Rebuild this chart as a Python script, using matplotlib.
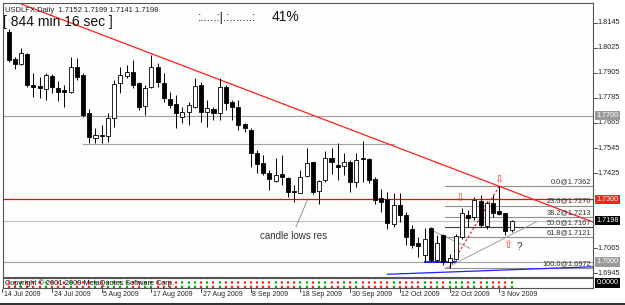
import matplotlib.pyplot as plt
import numpy as np
import pandas as pd
from matplotlib.transforms import blended_transform_factory

plt.rcParams['font.family'] = ['Liberation Sans', 'DejaVu Sans']

# Data: USDLFX daily candles, 15 Jul 2009 .. 5 Nov 2009
days = pd.bdate_range('2009-07-14', '2009-11-05')
opens = [1.8102, 1.7970, 1.7948, 1.7995, 1.7847, 1.7842, 1.7826, 1.7890, 1.7831, 1.7823,
         1.7815, 1.7932, 1.7895, 1.7711, 1.7592, 1.7609, 1.7603, 1.7687, 1.7855, 1.7891,
         1.7910, 1.7858, 1.7746, 1.7836, 1.7934, 1.7858, 1.7780, 1.7756, 1.7692, 1.7719,
         1.7743, 1.7847, 1.7719, 1.7732, 1.7711, 1.7839, 1.7767, 1.7740, 1.7661, 1.7631,
         1.7520, 1.7475, 1.7427, 1.7389, 1.7421, 1.7403, 1.7341, 1.7331, 1.7411, 1.7477,
         1.7341, 1.7392, 1.7496, 1.7464, 1.7461, 1.7480, 1.7384, 1.7496, 1.7491, 1.7395,
         1.7304, 1.7302, 1.7181, 1.7272, 1.7224, 1.7156, 1.7089, 1.7033, 1.7161, 1.7009,
         1.7129, 1.7001, 1.7012, 1.7121, 1.7224, 1.7216, 1.7293, 1.7172, 1.7283, 1.7245,
         1.7233, 1.7152]
highs = [1.8115, 1.7982, 1.8022, 1.8000, 1.7903, 1.7886, 1.7906, 1.7899, 1.7868, 1.7849,
         1.7982, 1.7975, 1.7903, 1.7730, 1.7640, 1.7655, 1.7711, 1.7871, 1.7934, 1.7942,
         1.7966, 1.7863, 1.7847, 1.7990, 1.7950, 1.7903, 1.7815, 1.7799, 1.7743, 1.7767,
         1.7879, 1.7863, 1.7775, 1.7743, 1.7879, 1.7847, 1.7775, 1.7775, 1.7663, 1.7640,
         1.7535, 1.7512, 1.7440, 1.7496, 1.7512, 1.7408, 1.7368, 1.7440, 1.7544, 1.7480,
         1.7392, 1.7532, 1.7544, 1.7568, 1.7520, 1.7488, 1.7523, 1.7580, 1.7495, 1.7405,
         1.7348, 1.7335, 1.7328, 1.7328, 1.7240, 1.7177, 1.7118, 1.7161, 1.7169, 1.7129,
         1.7134, 1.7040, 1.7134, 1.7257, 1.7248, 1.7312, 1.7320, 1.7290, 1.7320, 1.7362,
         1.7236, 1.7199]
lows = [1.7958, 1.7922, 1.7940, 1.7839, 1.7791, 1.7783, 1.7775, 1.7810, 1.7770, 1.7740,
        1.7807, 1.7871, 1.7695, 1.7568, 1.7568, 1.7568, 1.7575, 1.7647, 1.7807, 1.7880,
        1.7830, 1.7727, 1.7703, 1.7831, 1.7839, 1.7767, 1.7735, 1.7640, 1.7663, 1.7655,
        1.7735, 1.7671, 1.7647, 1.7679, 1.7679, 1.7727, 1.7679, 1.7631, 1.7624, 1.7456,
        1.7425, 1.7416, 1.7344, 1.7384, 1.7368, 1.7312, 1.7288, 1.7328, 1.7405, 1.7323,
        1.7277, 1.7384, 1.7421, 1.7392, 1.7416, 1.7336, 1.7357, 1.7384, 1.7380, 1.7277,
        1.7240, 1.7160, 1.7168, 1.7192, 1.7081, 1.7065, 1.7025, 1.7000, 1.7000, 1.7000,
        1.6985, 1.6972, 1.7009, 1.7110, 1.7169, 1.7200, 1.7168, 1.7160, 1.7216, 1.7224,
        1.7128, 1.7141]
closes = [1.7966, 1.7948, 1.7999, 1.7846, 1.7836, 1.7831, 1.7895, 1.7839, 1.7815, 1.7812,
          1.7932, 1.7887, 1.7703, 1.7596, 1.7608, 1.7604, 1.7687, 1.7851, 1.7895, 1.7907,
          1.7847, 1.7743, 1.7831, 1.7934, 1.7863, 1.7783, 1.7751, 1.7711, 1.7719, 1.7751,
          1.7842, 1.7719, 1.7735, 1.7711, 1.7836, 1.7759, 1.7743, 1.7655, 1.7640, 1.7520,
          1.7469, 1.7424, 1.7397, 1.7416, 1.7405, 1.7336, 1.7333, 1.7408, 1.7475, 1.7336,
          1.7387, 1.7496, 1.7477, 1.7456, 1.7480, 1.7384, 1.7488, 1.7491, 1.7392, 1.7296,
          1.7288, 1.7185, 1.7272, 1.7224, 1.7121, 1.7081, 1.7076, 1.7110, 1.7009, 1.7089,
          1.7001, 1.7017, 1.7124, 1.7233, 1.7209, 1.7296, 1.7176, 1.7281, 1.7236, 1.7229,
          1.7150, 1.7198]

price_ticks = [1.8145, 1.8025, 1.7905, 1.7785, 1.7665, 1.7545, 1.7425, 1.7065, 1.6945]
date_labels = ['14 Jul 2009', '24 Jul 2009', '5 Aug 2009', '17 Aug 2009', '27 Aug 2009',
               '8 Sep 2009', '18 Sep 2009', '30 Sep 2009', '12 Oct 2009', '22 Oct 2009',
               '3 Nov 2009']
fib_levels = [0.0, 23.6, 38.2, 50.0, 61.8, 100.0]
fib_high, fib_low = 1.7362, 1.6972
levels = {'1.7700': 1.7700, '1.7300': 1.7300, '1.7000': 1.7000}
bid = 1.7198

x = np.arange(1, len(opens) + 1)
o, h, l, c = map(np.array, (opens, highs, lows, closes))
bull = c >= o

fig = plt.figure(figsize=(6.25, 3.05), dpi=100)
fig.patch.set_facecolor('white')
ax = fig.add_axes([3/625, 28/305, 590/625, 274/305])
ind = fig.add_axes([3/625, 17/305, 590/625, 10/305])
bg = '#fdfdfb'
for a in (ax, ind):
    a.set_facecolor(bg)
    for s in a.spines.values():
        s.set_color('#555555')
        s.set_linewidth(0.8)
    a.set_xticks([])
    a.set_yticks([])

ax.set_xlim(0.11, 95.1)
ax.set_ylim(1.6928, 1.8239)
ind.set_xlim(0.11, 95.1)
ind.set_ylim(-1, 1)

# horizontal levels
ax.axhline(1.7700, color='#a0a0a0', lw=0.8)
ax.axhline(1.7300, color='#ff0000', lw=0.9)
ax.axhline(1.7000, color='#a0a0a0', lw=0.8)
ax.axhline(bid, color='#c0c0c0', lw=0.8)
ax.plot([13, 63], [1.7565, 1.7565], color='#a0a0a0', lw=0.8)

# fibo retracement
for lv in fib_levels:
    p = fib_high - (fib_high - fib_low) * lv / 100
    ax.plot([71.2, 95.1], [p, p], color='#909090' if lv != 50.0 else '#404040', lw=0.8)
    ax.text(94.8, p + 0.0004, '%.1f@%.4f' % (lv, p), fontsize=5.3, ha='right', va='bottom',
            color='#333333')
ax.plot([72, 80], [fib_low, fib_high], color='#ff0000', lw=0.8, ls=(0, (2, 2)))

# red trendline through two highs
t = np.array([0, 95.1])
slope = (1.7362 - 1.8110) / (80 - 14)
ax.plot(t, 1.8110 + slope * (t - 14), color='#ff2020', lw=0.9)

# blue lines
ax.plot([62, 95.1], [1.6941, 1.6977], color='#2020ff', lw=0.9)
ax.plot([68, 73], [1.7000, 1.7000], color='#2020ff', lw=1.4)

# gray triangle lines
ax.plot([69.1, 75.3], [1.7152, 1.7065], color='#a0a0a0', lw=0.7)
ax.plot([71.3, 86], [1.6969, 1.7192], color='#a0a0a0', lw=0.7)

# candles
w = 0.65
ax.vlines(x, l, h, color='#000000', lw=0.7, zorder=3)
for xi, oi, ci, up in zip(x, o, c, bull):
    lo_, hi_ = min(oi, ci), max(oi, ci)
    ax.add_patch(plt.Rectangle((xi - w/2, lo_), w, max(hi_ - lo_, 0.00015),
                               facecolor='white' if up else 'black', edgecolor='black',
                               lw=0.6, zorder=4))

# annotations
ax.plot([47.3, 49.1], [1.7168, 1.7296], color='#808080', lw=0.6)
ax.text(41.5, 1.7124, 'candle lows res', fontsize=7, va='center', ha='left', color='#333333')
ax.text(73.6, 1.7305, '\u21e9', fontsize=8, color='#ff4040', ha='center', va='center')
ax.text(80.0, 1.7394, '\u21e9', fontsize=8, color='#ff4040', ha='center', va='center')
ax.text(81.4, 1.7080, '\u21e7', fontsize=8, color='#ff4040', ha='center', va='center')
ax.text(83.2, 1.7072, '?', fontsize=7, color='#333333', ha='center', va='center')

# header texts
ax.text(0.003, 0.985, 'USDLFX,Daily  1.7152 1.7199 1.7141 1.7198', transform=ax.transAxes,
        fontsize=5.5, va='top', ha='left', color='#222222')
ax.text(0.0, 0.955, '[ 844 min 16 sec ]', transform=ax.transAxes, fontsize=10,
        va='top', ha='left', color='#111111')
ax.text(0.331, 0.967, ':.....:|.:.......:', transform=ax.transAxes, fontsize=8.5,
        va='top', ha='left', color='#111111')
ax.text(0.456, 0.975, '41%', transform=ax.transAxes, fontsize=10, va='top', ha='left',
        color='#111111')

# right price scale
tr = blended_transform_factory(ax.transAxes, ax.transData)
for p in price_ticks:
    ax.plot([1.0, 1.006], [p, p], color='#333333', lw=0.6, transform=tr, clip_on=False)
    ax.text(1.008, p, '%.4f' % p, fontsize=5.2, va='center', ha='left', transform=tr,
            color='#222222')
box_styles = {'1.7700': ('#9a9a9a', 'white'), '1.7300': ('#ff2020', 'white'),
              '1.7000': ('#9a9a9a', 'white')}
for name, p in levels.items():
    fc, tc = box_styles[name]
    ax.text(1.006, p, name, fontsize=5.2, va='center', ha='left', transform=tr, color=tc,
            bbox=dict(boxstyle='square,pad=0.15', fc=fc, ec='none'))
ax.text(1.006, bid, '%.4f' % bid, fontsize=5.2, va='center', ha='left', transform=tr,
        color='white', bbox=dict(boxstyle='square,pad=0.15', fc='black', ec='none'))

# indicator sub-window
cols = np.where(bull, '#00b000', '#ff2020')
ind.vlines(x, -0.9, 0.9, colors=cols, lw=1.6, linestyles=(0, (1, 1)))
ind.text(0.003, 0.5, 'Copyright \u00a9 2001-2009 MetaQuotes Software Corp.',
         transform=ind.transAxes, fontsize=5.3, va='center', ha='left', color='#111111')
ind.text(1.006, 0.5, '0.0000', fontsize=5.2, va='center', ha='left', transform=ind.transAxes,
         color='white', bbox=dict(boxstyle='square,pad=0.15', fc='black', ec='none'))

# date scale
trd = blended_transform_factory(ind.transData, fig.transFigure)
for lab in date_labels:
    xi = days.get_loc(pd.Timestamp(lab))
    ind.plot([xi, xi], [16/305, 13/305], color='#333333', lw=0.6, transform=trd, clip_on=False)
    ind.text(xi + 0.25, 10/305, lab, fontsize=5.0, va='center', ha='left', transform=trd,
             color='#222222')

fig.add_artist(plt.Line2D([0, 1], [1.5/305, 1.5/305], color='#333333', lw=1.5))

fig.savefig('out.png', dpi=100, facecolor='white')
